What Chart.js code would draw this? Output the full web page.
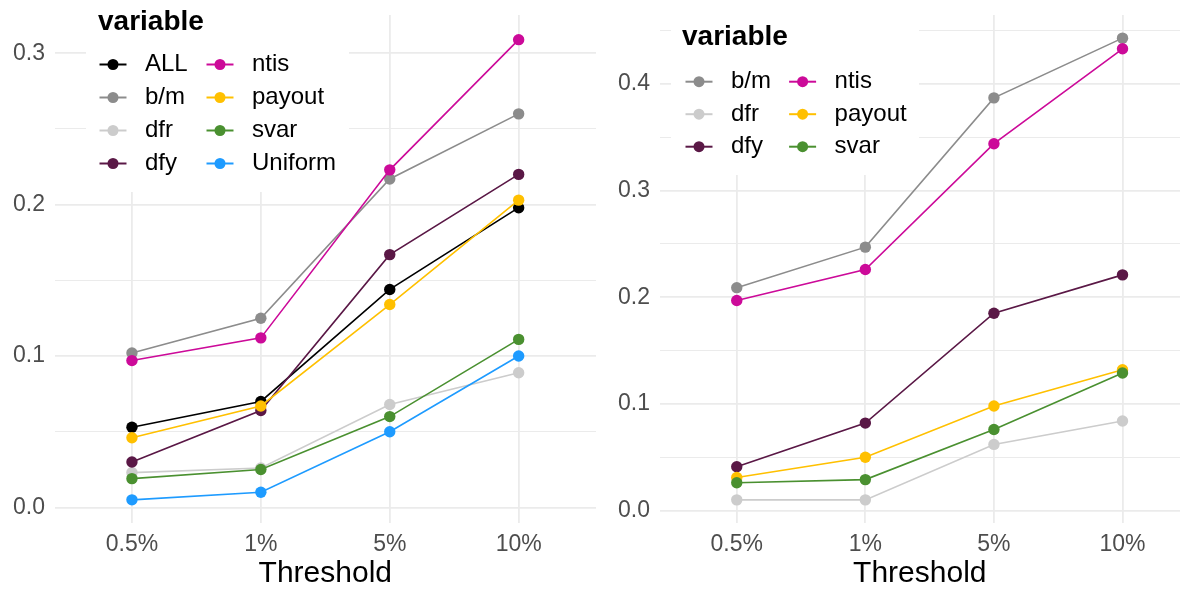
<!DOCTYPE html>
<html>
<head>
<meta charset="utf-8">
<script src="https://cdn.jsdelivr.net/npm/chart.js@4.4.1/dist/chart.umd.min.js"></script>
<style>
  html, body { margin: 0; padding: 0; background: #fff; }
  #wrap { position: relative; width: 1180px; height: 593px; overflow: hidden; }
  .panel { position: absolute; top: 0; height: 593px; }
  #left { left: 0; width: 596px; }
  #right { left: 596px; width: 584px; }
  canvas { display: block; }
</style>
</head>
<body>
<div id="wrap">
  <div class="panel" id="left"><canvas id="leftChart"></canvas></div>
  <div class="panel" id="right"><canvas id="rightChart"></canvas></div>
</div>
<script>
const thresholds = ['0.5%', '1%', '5%', '10%'];

// left panel
const leftVars = ['ALL', 'b/m', 'dfr', 'dfy', 'ntis', 'payout', 'svar', 'Uniform'];
const leftALL = [0.053, 0.070, 0.144, 0.198];
const leftBM = [0.102, 0.125, 0.217, 0.260];
const leftDFR = [0.023, 0.026, 0.068, 0.089];
const leftDFY = [0.030, 0.064, 0.167, 0.220];
const leftNTIS = [0.097, 0.112, 0.223, 0.309];
const leftPayout = [0.046, 0.067, 0.134, 0.203];
const leftSVAR = [0.019, 0.025, 0.060, 0.111];
const leftUniform = [0.005, 0.010, 0.050, 0.100];
const leftYTicks = [0, 0.05, 0.1, 0.15, 0.2, 0.25, 0.3];

// right panel
const rightVars = ['b/m', 'dfr', 'dfy', 'ntis', 'payout', 'svar'];
const rightBM = [0.209, 0.247, 0.387, 0.443];
const rightDFR = [0.010, 0.010, 0.062, 0.084];
const rightDFY = [0.041, 0.082, 0.185, 0.221];
const rightNTIS = [0.197, 0.226, 0.344, 0.433];
const rightPayout = [0.031, 0.050, 0.098, 0.132];
const rightSVAR = [0.026, 0.029, 0.076, 0.129];
const rightYTicks = [0, 0.05, 0.1, 0.15, 0.2, 0.25, 0.3, 0.35, 0.4, 0.45];

const varColors = {
  'ALL': '#000000',
  'b/m': '#8c8c8c',
  'dfr': '#cccccc',
  'dfy': '#5a1846',
  'ntis': '#cc0a99',
  'payout': '#ffc000',
  'svar': '#4a9030',
  'Uniform': '#1e9bff'
};

const FONT = '"Liberation Sans", Arial, sans-serif';

function makeDatasets(names, values) {
  return names.map((name, i) => ({
    label: name,
    data: values[i].map((v, j) => ({ x: j, y: v })),
    borderColor: varColors[name],
    backgroundColor: varColors[name],
    borderWidth: 1.6,
    pointRadius: 5.7,
    pointBorderWidth: 0,
    order: -i
  }));
}

// ggplot style legend drawn over the panel grid
const legendBox = {
  id: 'legendBox',
  beforeDatasetsDraw(chart, args, opts) {
    const ctx = chart.ctx;
    ctx.save();
    ctx.fillStyle = '#ffffff';
    ctx.fillRect(opts.box[0], opts.box[1], opts.box[2], opts.box[3]);
    ctx.fillStyle = '#000000';
    ctx.font = 'bold 28px ' + FONT;
    ctx.textBaseline = 'alphabetic';
    ctx.textAlign = 'left';
    ctx.fillText('variable', opts.titleX, opts.titleY);
    ctx.font = '24px ' + FONT;
    ctx.textBaseline = 'middle';
    chart.data.datasets.forEach((ds, i) => {
      const col = Math.floor(i / opts.rows);
      const row = i % opts.rows;
      const cx = opts.colX[col];
      const cy = opts.rowY + row * opts.rowGap;
      ctx.strokeStyle = ds.borderColor;
      ctx.lineWidth = 2;
      ctx.beginPath();
      ctx.moveTo(cx - 13.5, cy);
      ctx.lineTo(cx + 13.5, cy);
      ctx.stroke();
      ctx.fillStyle = ds.borderColor;
      ctx.beginPath();
      ctx.arc(cx, cy, 5.5, 0, Math.PI * 2);
      ctx.fill();
      ctx.fillStyle = '#000000';
      ctx.fillText(ds.label, cx + 32, cy);
    });
    ctx.restore();
  }
};

function makeChart(id, datasets, yTicks, yMin, yMax, xMax, axisWidth, legendOpts) {
  return new Chart(document.getElementById(id), {
    type: 'line',
    data: { datasets: datasets },
    plugins: [legendBox],
    options: {
      responsive: true,
      maintainAspectRatio: false,
      animation: false,
      events: [],
      layout: { autoPadding: false, padding: { top: 15, left: 0, right: 0, bottom: 0 } },
      plugins: {
        legend: { display: false },
        tooltip: { enabled: false },
        legendBox: legendOpts
      },
      scales: {
        x: {
          type: 'linear',
          min: -0.6,
          max: xMax,
          afterBuildTicks: s => { s.ticks = thresholds.map((t, i) => ({ value: i })); },
          afterFit: s => { s.height = 70; s.paddingLeft = 0; s.paddingRight = 0; },
          border: { display: false },
          grid: { color: '#ebebeb', lineWidth: 1.8, drawTicks: false },
          ticks: {
            padding: 8,
            color: '#4d4d4d',
            font: { family: FONT, size: 23 },
            callback: v => thresholds[v]
          },
          title: {
            display: true,
            text: 'Threshold',
            color: '#000000',
            font: { family: FONT, size: 30 },
            padding: { top: 0, bottom: 1 }
          }
        },
        y: {
          min: yMin,
          max: yMax,
          afterBuildTicks: s => { s.ticks = yTicks.map(v => ({ value: v })); },
          afterFit: s => { s.width = axisWidth; s.paddingTop = 0; s.paddingBottom = 0; },
          border: { display: false },
          grid: {
            color: '#ebebeb',
            drawTicks: false,
            lineWidth: c => (Math.round(c.tick.value * 100) % 10 === 0 ? 1.8 : 1)
          },
          ticks: {
            padding: 9.6,
            color: '#4d4d4d',
            font: { family: FONT, size: 23 },
            callback: v => (Math.round(v * 100) % 10 === 0 ? v.toFixed(1) : '')
          }
        }
      }
    }
  });
}

makeChart('leftChart',
  makeDatasets(leftVars, [leftALL, leftBM, leftDFR, leftDFY, leftNTIS, leftPayout, leftSVAR, leftUniform]),
  leftYTicks, -0.0103, 0.3253, 3.6, 54.6,
  { box: [86, 0, 263, 192], titleX: 98, titleY: 29.5, colX: [113, 220], rows: 4, rowY: 64.5, rowGap: 33 });

makeChart('rightChart',
  makeDatasets(rightVars, [rightBM, rightDFR, rightDFY, rightNTIS, rightPayout, rightSVAR]),
  rightYTicks, -0.0117, 0.4647, 3.447, 63.6,
  { box: [75, 0, 248, 175], titleX: 86, titleY: 45, colX: [103, 206.6], rows: 3, rowY: 81.7, rowGap: 32.5 });
</script>
</body>
</html>
